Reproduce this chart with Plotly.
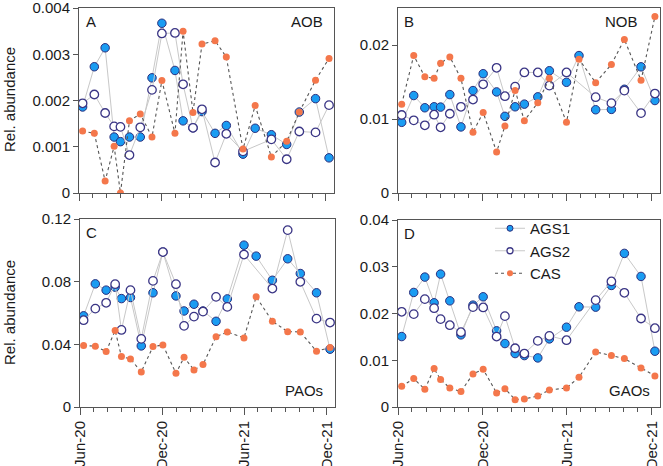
import plotly.graph_objects as go

dates = ["2020-06-09", "2020-07-05", "2020-07-29", "2020-08-18", "2020-09-01", "2020-09-21",
         "2020-10-15", "2020-11-10", "2020-12-02", "2020-12-31", "2021-01-18", "2021-02-09",
         "2021-03-01", "2021-03-30", "2021-04-24", "2021-05-31", "2021-06-27", "2021-08-02",
         "2021-09-05", "2021-10-03", "2021-11-08", "2021-12-08"]

aob_ags1 = [0.00186, 0.00273, 0.00314, 0.00121, 0.00111, 0.00121, 0.00121, 0.00249, 0.00367, 0.00265, 0.00156,
            0.00141, 0.00176, 0.00129, 0.00146, 0.00084, 0.00140, 0.00126, 0.00105, 0.00175, 0.00204, 0.00076]
aob_ags2 = [0.00194, 0.00213, 0.00173, 0.00144, 0.00143, 0.00082, 0.00142, 0.00223, 0.00345, 0.00346, 0.00235,
            0.00141, 0.00181, 0.00066, 0.00128, 0.00090, None, 0.00116, 0.00073, 0.00133, 0.00131, 0.00190]
aob_cas = [0.00134, 0.00129, 0.00026, 0.00101, 0.0, 0.00156, 0.00171, 0.00121, 0.00243, 0.00129, 0.00350,
           0.00174, 0.00322, 0.00329, 0.00294, 0.00095, 0.00189, 0.00078, 0.00112, 0.00175, 0.00244, 0.00291]

nob_ags1 = [0.00955, 0.01317, 0.01152, 0.01165, 0.01161, 0.0133, 0.00893, 0.01384, 0.01612, 0.01366, 0.01036,
            0.01165, 0.01201, 0.01299, 0.01652, 0.01496, 0.01857, 0.01125, 0.0113, 0.01402, 0.01705, 0.0125]
nob_ags2 = [0.01054, 0.00982, 0.00915, 0.01058, 0.00888, 0.01071, 0.01165, 0.01263, 0.01469, 0.01692, 0.01308,
            0.01437, 0.01629, 0.01629, 0.01451, 0.01629, None, 0.01295, 0.01214, 0.01384, 0.0108, 0.01344]
nob_cas = [0.01201, 0.01857, 0.01571, 0.01549, 0.01754, 0.01839, 0.01549, 0.00821, 0.01089, 0.00554, 0.00906,
           0.01384, 0.00978, 0.01219, 0.01549, 0.00955, 0.01808, 0.01491, 0.01737, 0.02076, 0.01522, 0.02384]

pao_ags1 = [0.0582, 0.0786, 0.0746, 0.0765, 0.0692, 0.0699, 0.0390, 0.0729, 0.0989, 0.0709, 0.0613,
            0.0656, 0.0613, 0.0547, 0.0690, 0.1033, 0.0963, 0.0809, 0.0946, 0.0852, 0.0729, 0.0369]
pao_ags2 = [0.0554, 0.0628, 0.0665, 0.0784, 0.0492, 0.0746, 0.0435, 0.0805, 0.0989, 0.0784, 0.0518,
            0.0577, 0.0609, 0.0703, 0.0639, 0.0973, None, 0.0756, 0.1129, 0.0799, 0.0564, 0.0539]
pao_cas = [0.0392, 0.0388, 0.0354, 0.0488, 0.0322, 0.0307, 0.0224, 0.0386, 0.0396, 0.0215, 0.0317,
           0.0236, 0.0271, 0.0449, 0.0479, 0.0441, 0.0703, 0.0547, 0.0481, 0.0479, 0.0356, 0.0379]

gao_ags1 = [0.01507, 0.0245, 0.02779, 0.02229, 0.02843, 0.02271, 0.01543, 0.02179, 0.02357, 0.01629, 0.01357,
            0.01143, 0.0110, 0.0105, 0.01457, 0.01707, 0.02143, 0.02136, 0.0260, 0.03286, 0.02793, 0.01193]
gao_ags2 = [0.02036, 0.01986, 0.02307, 0.02114, 0.01879, 0.0175, 0.0160, 0.02136, 0.02129, 0.01507, 0.01943,
            0.01257, 0.01143, 0.01414, 0.01521, 0.01429, None, 0.02286, 0.02686, 0.02443, 0.01893, 0.01686]
gao_cas = [0.00443, 0.00607, 0.00379, 0.00821, 0.00586, 0.00407, 0.00329, 0.00707, 0.00807, 0.0030, 0.00393,
           0.00157, 0.00171, 0.00236, 0.00364, 0.00407, 0.00636, 0.01179, 0.0110, 0.01036, 0.00836, 0.00664]

series_names = ["AGS1", "AGS2", "CAS"]
panel_letters = ["A", "B", "C", "D"]
panel_groups = ["AOB", "NOB", "PAOs", "GAOs"]
y_ranges = [[0, 0.004], [0, 0.025], [0, 0.12], [0, 0.04]]
y_dticks = [0.001, 0.01, 0.04, 0.01]
panel_data = [(aob_ags1, aob_ags2, aob_cas), (nob_ags1, nob_ags2, nob_cas),
              (pao_ags1, pao_ags2, pao_cas), (gao_ags1, gao_ags2, gao_cas)]

W, H = 663, 466
FONT = "Liberation Sans, Arial, sans-serif"
TXT = "#1a1a1a"
AX = "#555555"

styles = {
    "AGS1": dict(line=dict(color="#c8c8c8", width=1),
                 marker=dict(symbol="circle", size=8.5, color="#1a9cf2", line=dict(color="#2b2f7d", width=1))),
    "AGS2": dict(line=dict(color="#c8c8c8", width=1),
                 marker=dict(symbol="circle", size=8.5, color="white", line=dict(color="#3a3585", width=1.3))),
    "CAS": dict(line=dict(color="#555555", width=1.1, dash="dot"),
                marker=dict(symbol="circle", size=7, color="#f4774b", line=dict(width=0))),
}
legend_marker_sizes = {"AGS1": 6, "AGS2": 6, "CAS": 6}

# domains in pixels: (left, right, top, bottom)
boxes = [(79, 334, 8, 193), (398, 660, 8, 193), (80, 335, 219, 407), (398, 660, 220, 407)]

fig = go.Figure()
layout = {}
for i, (box, data) in enumerate(zip(boxes, panel_data)):
    k = "" if i == 0 else str(i + 1)
    l, r, t, b = box
    for name, vals in zip(series_names, data):
        st = styles[name]
        fig.add_trace(go.Scatter(x=dates, y=vals, name=name, mode="lines+markers",
                                 line=st["line"], marker=st["marker"], connectgaps=True,
                                 xaxis="x" + k, yaxis="y" + k, showlegend=False))
    layout["xaxis" + k] = dict(
        domain=[l / W, r / W], anchor="y" + k, type="date", automargin=False,
        range=["2020-06-01", "2021-12-19"], tick0="2020-06-01", dtick="M6",
        tickformat="%b-%y", tickangle=-90, showticklabels=(i >= 2), ticklabeloverflow="allow",
        ticks="outside", ticklen=7, tickcolor=AX, tickwidth=1,
        minor=dict(ticks="outside", ticklen=4, dtick="M1", tick0="2020-06-01", tickcolor=AX, showgrid=False),
        showline=True, linecolor=AX, linewidth=1, mirror=True, showgrid=False, zeroline=False,
        tickfont=dict(family=FONT, size=15, color=TXT))
    layout["yaxis" + k] = dict(
        domain=[1 - b / H, 1 - t / H], anchor="x" + k, range=y_ranges[i], dtick=y_dticks[i],
        tick0=0, ticks="outside", ticklen=5, tickcolor=AX, showline=True, linecolor=AX,
        linewidth=1, mirror=True, showgrid=False, zeroline=False, automargin=False,
        ticklabeloverflow="allow",
        tickfont=dict(family=FONT, size=15, color=TXT))

# legend entries (legend-only keys, placed in panel D)
for name in series_names:
    st = styles[name]
    mk = dict(st["marker"])
    mk["size"] = legend_marker_sizes[name]
    fig.add_trace(go.Scatter(x=[None], y=[None], name=name, mode="lines+markers",
                             line=st["line"], marker=mk, xaxis="x4", yaxis="y4", showlegend=True))

annotations = []
label_pos = [((84 - 79) / 255, 0.985, (325 - 79) / 255, 0.985),
             ((402 - 398) / 262, 0.985, (640 - 398) / 262, 0.985),
             ((84 - 80) / 255, 0.985, (325 - 80) / 255, 0.03),
             ((402 - 398) / 262, 0.985, (652 - 398) / 262, 0.03)]
for i in range(4):
    k = "" if i == 0 else str(i + 1)
    lx, ly, gx, gy = label_pos[i]
    annotations.append(dict(text=panel_letters[i], xref="x" + k + " domain", yref="y" + k + " domain",
                            x=lx, y=ly, xanchor="left", yanchor="top", showarrow=False,
                            font=dict(family=FONT, size=15, color=TXT)))
    annotations.append(dict(text=panel_groups[i], xref="x" + k + " domain", yref="y" + k + " domain",
                            x=gx, y=gy, xanchor="right", yanchor=("top" if gy > 0.5 else "bottom"),
                            showarrow=False, font=dict(family=FONT, size=15, color=TXT)))
for yc in (100, 313):
    annotations.append(dict(text="Rel. abundance", xref="paper", yref="paper", x=9 / W, y=1 - yc / H,
                            textangle=-90, showarrow=False, xanchor="center", yanchor="middle",
                            font=dict(family=FONT, size=15, color=TXT)))

fig.update_layout(
    width=W, height=H, margin=dict(l=0, r=0, t=0, b=0, autoexpand=False),
    paper_bgcolor="white", plot_bgcolor="white",
    annotations=annotations,
    legend=dict(x=490 / W, y=1 - 212 / H, xanchor="left", yanchor="top", bgcolor="rgba(0,0,0,0)",
                font=dict(family=FONT, size=15, color=TXT), tracegroupgap=0, itemwidth=30),
    **layout)

fig.write_html("out.html", config={"displayModeBar": False},
               post_script="document.body.style.margin='0';document.body.style.overflow='hidden';")
